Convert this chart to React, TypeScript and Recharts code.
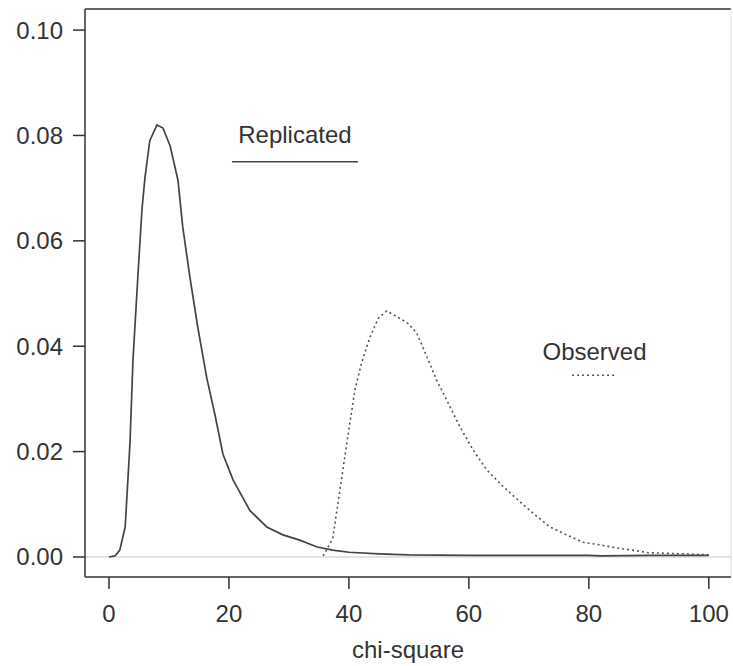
import {
  LineChart,
  Line,
  XAxis,
  YAxis,
  ReferenceLine,
} from "recharts";

// replicated chi-square density (solid)
const replicatedX = [0, 1, 1.8, 2.7, 3.5, 4.0, 4.8, 5.5, 6.0, 6.8, 8.0, 9.0, 10.2, 11.5, 12.3, 13.5, 14.8, 16.3, 17.7, 19.0, 20.7, 23.5, 26.3, 29, 31.8, 34.7, 37.3, 40, 45, 50, 60, 70, 80, 82, 90, 100];
const replicatedY = [0, 0.0002, 0.0013, 0.0057, 0.0216, 0.0374, 0.053, 0.066, 0.072, 0.079, 0.082, 0.0814, 0.078, 0.0715, 0.0626, 0.053, 0.0436, 0.034, 0.0268, 0.0195, 0.0146, 0.0088, 0.0057, 0.0042, 0.0032, 0.0019, 0.0013, 0.0009, 0.0006, 0.0004, 0.0003, 0.0003, 0.0003, 0.0002, 0.0003, 0.0003];

// observed chi-square density (dotted)
const observedX = [35.7, 37.3, 38.5, 39.7, 41, 42.1, 43.5, 44.9, 46.3, 48, 49.9, 51.3, 53, 54.6, 56.3, 58.5, 60.7, 63, 65.5, 68, 70.7, 73.5, 76.3, 79, 81.8, 84.7, 87.3, 90, 93, 95.7, 100];
const observedY = [0.0002, 0.0035, 0.0127, 0.022, 0.0317, 0.0368, 0.0417, 0.0453, 0.0467, 0.0456, 0.0443, 0.0425, 0.038, 0.0336, 0.0298, 0.0247, 0.0203, 0.0165, 0.0136, 0.011, 0.0083, 0.0057, 0.0042, 0.0028, 0.0023, 0.0017, 0.0013, 0.0008, 0.0007, 0.0006, 0.0004];

const xTicks = [0, 20, 40, 60, 80, 100];
const yTicks = [0, 0.02, 0.04, 0.06, 0.08, 0.1];

const X_DOMAIN = [-4, 103.7];
const Y_DOMAIN = [-0.0038, 0.104];

const replicated = replicatedX.map((x, i) => ({ x, y: replicatedY[i] }));
const observed = observedX.map((x, i) => ({ x, y: observedY[i] }));

const FONT = "'Liberation Sans', Arial, sans-serif";
const INK = "#333";
const textStyle = { fill: INK, fontSize: 24, fontFamily: FONT };

const App = () => {
  return (
    <div style={{ position: "absolute", left: 0, top: 0, background: "#fff" }}>
      <LineChart
        width={733}
        height={666}
        margin={{ top: 9, right: 2, bottom: 0, left: 0 }}
      >
        <XAxis
          type="number"
          dataKey="x"
          domain={X_DOMAIN}
          ticks={xTicks}
          allowDataOverflow
          height={89}
          tickSize={12}
          tickMargin={16}
          tick={textStyle}
          stroke={INK}
          strokeWidth={1.5}
          label={{
            value: "chi-square",
            position: "insideBottom",
            offset: 8,
            style: textStyle,
          }}
        />
        <YAxis
          type="number"
          dataKey="y"
          domain={Y_DOMAIN}
          ticks={yTicks}
          allowDataOverflow
          width={85}
          tickSize={12}
          tickMargin={10}
          tick={textStyle}
          stroke={INK}
          strokeWidth={1.5}
          tickFormatter={(v: number) => v.toFixed(2)}
        />
        <ReferenceLine y={Y_DOMAIN[1]} stroke={INK} strokeWidth={1.5} />
        <ReferenceLine x={X_DOMAIN[1]} stroke="#ddd" strokeWidth={1} />
        <ReferenceLine y={0} stroke="#c8c8c8" strokeWidth={1} />

        <ReferenceLine
          segment={[{ x: 20.5, y: 0.075 }, { x: 41.5, y: 0.075 }]}
          stroke="#444"
          strokeWidth={1.5}
          label={{ value: "Replicated", position: "top", offset: 19, style: textStyle }}
        />
        <ReferenceLine
          segment={[{ x: 77.2, y: 0.0345 }, { x: 84.7, y: 0.0345 }]}
          stroke="#555"
          strokeWidth={1.5}
          strokeDasharray="2 3"
          label={{ value: "Observed", position: "top", offset: 15, style: textStyle }}
        />

        <Line
          data={replicated}
          dataKey="y"
          type="linear"
          stroke="#444"
          strokeWidth={1.7}
          dot={false}
          isAnimationActive={false}
        />
        <Line
          data={observed}
          dataKey="y"
          type="linear"
          stroke="#555"
          strokeWidth={1.6}
          strokeDasharray="2 3"
          dot={false}
          isAnimationActive={false}
        />
      </LineChart>
    </div>
  );
};

export default App;
